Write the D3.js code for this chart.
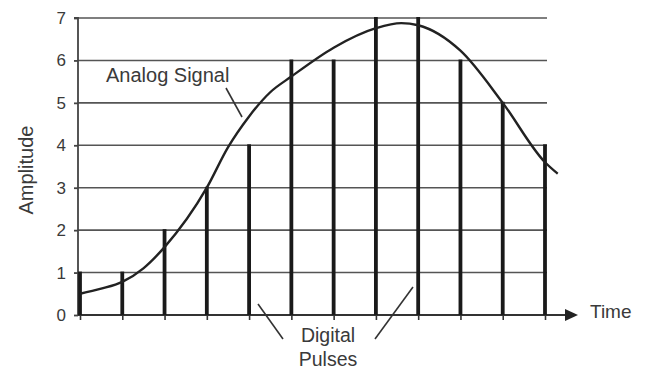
<!DOCTYPE html>
<html><head><meta charset="utf-8">
<script src="https://cdn.jsdelivr.net/npm/d3@7"></script>
<style>body{margin:0;background:#fff}svg{display:block}text{font-family:"Liberation Sans",Arial,sans-serif;fill:#3a3a3a}</style>
</head><body><svg id="c" width="646" height="369"></svg>
<script>
const pulseTimes = [0,1,2,3,4,5,6,7,8,9,10,11];
const pulseValues = [1,1,2,3,4,6,6,7,7,6,5,4];
const analogT = [0,0.5,1,1.5,2,3,3.5,4,4.5,5,6,7,7.6,8,9,10,11,11.3];
const analogV = [0.5,0.62,0.78,1.1,1.6,3.0,3.95,4.68,5.25,5.62,6.3,6.76,6.88,6.83,6.23,5.0,3.6,3.33];
const yTicks = [0,1,2,3,4,5,6,7];

const svg = d3.select("#c");
const x = d3.scaleLinear().domain([0,11]).range([80,545]);
const y = d3.scaleLinear().domain([0,7]).range([315,18]);
const x0 = 78, gridEnd = 547;

// horizontal grid
svg.append("g").selectAll("line").data(yTicks.slice(1)).join("line")
  .attr("x1",x0).attr("x2",gridEnd).attr("y1",d=>y(d)).attr("y2",d=>y(d))
  .attr("stroke","#555").attr("stroke-width",1.6);

// y axis
const yAxis = d3.axisLeft(y).tickValues(yTicks).tickSize(4).tickPadding(8).tickFormat(d3.format("d"));
const ya = svg.append("g").attr("transform",`translate(${x0},0)`).call(yAxis);
ya.select(".domain").attr("stroke","#444").attr("stroke-width",1.8).attr("d",`M-4,${y(7)}H0V${y(0)}`);
ya.selectAll(".tick line").attr("stroke","#444").attr("stroke-width",1.8);
ya.selectAll(".tick text").attr("font-size",17).attr("fill","#3a3a3a").style("font-family","Liberation Sans, Arial, sans-serif");

// x axis baseline with arrow
const xa = d3.axisBottom(x).tickValues(pulseTimes).tickSize(5).tickFormat("");
const xg = svg.append("g").attr("transform",`translate(0,${y(0)})`).call(xa);
xg.select(".domain").attr("stroke","#333").attr("stroke-width",1.8).attr("d",`M${x0},0H570`);
xg.selectAll(".tick line").attr("stroke","#333").attr("stroke-width",1.6);
svg.append("path").attr("d",`M565,${y(0)-6}L578,${y(0)}L565,${y(0)+6}Z`).attr("fill","#222");

// pulses
svg.append("g").selectAll("line").data(pulseTimes).join("line")
  .attr("x1",(d)=>x(d)).attr("x2",d=>x(d))
  .attr("y1",y(0)).attr("y2",(d,i)=>y(pulseValues[i])-1)
  .attr("stroke","#1a1a1a").attr("stroke-width",3.8);

// analog curve
const pts = analogT.map((t,i)=>[t,analogV[i]]);
svg.append("path").datum(pts)
  .attr("d",d3.line().x(d=>x(d[0])).y(d=>y(d[1])).curve(d3.curveMonotoneX))
  .attr("fill","none").attr("stroke","#222").attr("stroke-width",2.4);

// labels
svg.append("text").attr("x",106).attr("y",82).attr("font-size",20).text("Analog Signal");
svg.append("line").attr("x1",226).attr("y1",88).attr("x2",242).attr("y2",117).attr("stroke","#333").attr("stroke-width",1.6);

svg.append("text").attr("x",328).attr("y",342).attr("text-anchor","middle").attr("font-size",19.5).text("Digital");
svg.append("text").attr("x",328).attr("y",366).attr("text-anchor","middle").attr("font-size",19.5).text("Pulses");
svg.append("line").attr("x1",258).attr("y1",304).attr("x2",283).attr("y2",339).attr("stroke","#333").attr("stroke-width",1.6);
svg.append("line").attr("x1",413).attr("y1",287).attr("x2",375).attr("y2",339).attr("stroke","#333").attr("stroke-width",1.6);

svg.append("text").attr("x",590).attr("y",318).attr("font-size",19).text("Time");
svg.append("text").attr("transform","translate(33,170) rotate(-90)").attr("text-anchor","middle").attr("font-size",20).text("Amplitude");
</script></body></html>
